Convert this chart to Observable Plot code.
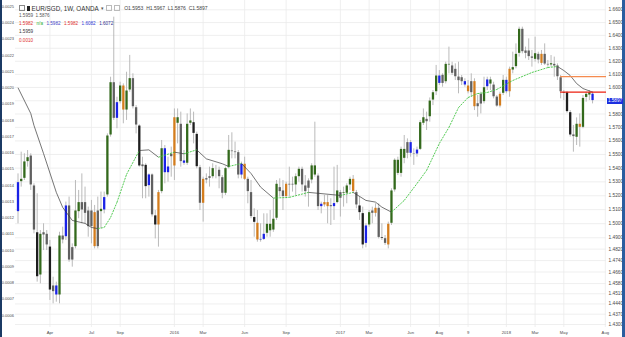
<!DOCTYPE html>
<html><head><meta charset="utf-8">
<script src="https://cdn.jsdelivr.net/npm/d3@7"></script>
<script src="https://cdn.jsdelivr.net/npm/@observablehq/plot@0.6"></script>
<style>
html,body{margin:0;padding:0;background:#fff;}
#wrap{position:relative;width:625px;height:337px;overflow:hidden;font-family:"Liberation Sans",Arial,sans-serif;background:#fff;}
#wrap svg{position:absolute;left:0;top:0;}
.lg{position:absolute;white-space:nowrap;line-height:1;}
.row1{display:flex;align-items:center;height:7px;}
</style></head><body><div id="wrap"></div>
<script>
// ---- data (weekly bars, EUR/SGD, OANDA) ----
const firstWeek = "2015-01-25";
const open  = [1.5298,1.5298,1.5322,1.5444,1.5492,1.5274,1.4939,1.4636,1.4939,1.4928,1.4838,1.4567,1.4567,1.4498,1.4916,1.4904,1.5130,1.4834,1.4834,1.5082,1.5154,1.5154,1.5094,1.5094,1.5082,1.5094,1.5082,1.5094,1.5202,1.5640,1.6040,1.5764,1.5889,1.6015,1.5826,1.5977,1.6071,1.5851,1.5714,1.5427,1.5424,1.5269,1.5354,1.5059,1.4987,1.5226,1.5546,1.5363,1.5505,1.5412,1.5727,1.5727,1.5456,1.5432,1.5727,1.5739,1.5652,1.5407,1.5142,1.5327,1.5341,1.5334,1.5395,1.5388,1.5334,1.5214,1.5400,1.5529,1.5522,1.5517,1.5346,1.5432,1.5322,1.5226,1.5047,1.5006,1.4892,1.4885,1.4928,1.4946,1.4951,1.5035,1.5262,1.5238,1.5190,1.5286,1.5286,1.5274,1.5334,1.5395,1.5274,1.5310,1.5310,1.5346,1.5346,1.5118,1.5130,1.5154,1.5130,1.5118,1.5147,1.5226,1.5214,1.5214,1.5274,1.5322,1.5226,1.5130,1.5075,1.4857,1.4987,1.5094,1.5070,1.5113,1.4904,1.4897,1.4846,1.4999,1.5238,1.5358,1.5358,1.5468,1.5591,1.5505,1.5510,1.5500,1.5534,1.5727,1.5764,1.5776,1.5901,1.5964,1.6091,1.6096,1.6040,1.6168,1.6168,1.6142,1.6083,1.6078,1.6048,1.6015,1.6048,1.6048,1.5881,1.5952,1.5889,1.6002,1.6022,1.6022,1.5931,1.5856,1.5952,1.6058,1.5964,1.6129,1.6155,1.6257,1.6451,1.6283,1.6283,1.6237,1.6211,1.6257,1.6180,1.6257,1.6180,1.6168,1.6180,1.6168,1.6078,1.5964,1.5964,1.5814,1.5648,1.5623,1.5727,1.5697,1.5921,1.5939,1.5953];
const high  = [1.5358,1.5517,1.5505,1.5529,1.5505,1.5286,1.5214,1.4951,1.4999,1.4951,1.4881,1.4624,1.4590,1.4939,1.4975,1.5154,1.5190,1.4857,1.5310,1.5238,1.5358,1.5262,1.5118,1.5166,1.5130,1.5190,1.5226,1.5226,1.5652,1.6078,1.6542,1.5926,1.6040,1.6027,1.6116,1.6245,1.6104,1.5863,1.5720,1.5480,1.5432,1.5358,1.5358,1.5094,1.5238,1.5603,1.5566,1.5480,1.5554,1.5838,1.5838,1.5814,1.5529,1.5801,1.5838,1.5814,1.5665,1.5420,1.5334,1.5358,1.5407,1.5432,1.5420,1.5407,1.5346,1.5407,1.5640,1.5660,1.5591,1.5529,1.5444,1.5480,1.5334,1.5310,1.5106,1.5094,1.4999,1.5070,1.5070,1.5094,1.5178,1.5310,1.5322,1.5310,1.5298,1.5407,1.5334,1.5358,1.5407,1.5407,1.5346,1.5322,1.5432,1.5739,1.5358,1.5154,1.5202,1.5202,1.5178,1.5407,1.5420,1.5238,1.5262,1.5286,1.5334,1.5346,1.5238,1.5190,1.5118,1.4999,1.5094,1.5118,1.5142,1.5142,1.4999,1.4916,1.5011,1.5250,1.5468,1.5480,1.5554,1.5640,1.5615,1.5603,1.5541,1.5554,1.5752,1.5838,1.5814,1.5921,1.5977,1.6168,1.6129,1.6104,1.6193,1.6309,1.6193,1.6180,1.6193,1.6091,1.6066,1.6053,1.6104,1.6066,1.5939,1.5964,1.6078,1.6078,1.6078,1.6040,1.5939,1.5964,1.6091,1.6078,1.6155,1.6270,1.6334,1.6464,1.6464,1.6309,1.6373,1.6283,1.6386,1.6270,1.6283,1.6334,1.6206,1.6244,1.6232,1.6180,1.6091,1.5977,1.5970,1.5826,1.5714,1.5771,1.5801,1.5939,1.5964,1.5977,1.5967];
const low   = [1.4999,1.5262,1.5310,1.5407,1.5238,1.4928,1.4590,1.4578,1.4810,1.4810,1.4464,1.4441,1.4452,1.4441,1.4857,1.4881,1.4728,1.4694,1.4822,1.5035,1.4999,1.4999,1.4904,1.4857,1.4822,1.4822,1.4963,1.5070,1.5190,1.5628,1.5752,1.5690,1.5876,1.5727,1.5752,1.5964,1.5838,1.5652,1.5407,1.5178,1.5178,1.5190,1.5047,1.4892,1.4834,1.5214,1.5286,1.5298,1.5334,1.5310,1.5578,1.5407,1.5420,1.5420,1.5714,1.5578,1.5395,1.5094,1.5011,1.5286,1.5262,1.5322,1.5322,1.5250,1.5178,1.5202,1.5395,1.5468,1.5468,1.5322,1.5322,1.5310,1.5142,1.5035,1.4904,1.4869,1.4869,1.4881,1.4904,1.4904,1.4939,1.5023,1.5190,1.5094,1.5178,1.5190,1.5226,1.5202,1.5298,1.5226,1.5190,1.5118,1.5286,1.5334,1.5094,1.5070,1.5118,1.4999,1.4987,1.5023,1.5142,1.5047,1.5118,1.5142,1.5238,1.5214,1.5106,1.5023,1.4822,1.4829,1.4975,1.4999,1.5047,1.4892,1.4881,1.4846,1.4822,1.4987,1.5226,1.5346,1.5334,1.5432,1.5468,1.5480,1.5420,1.5480,1.5529,1.5714,1.5677,1.5739,1.5863,1.5939,1.6015,1.6002,1.6027,1.6104,1.6091,1.6053,1.5952,1.6015,1.6002,1.5952,1.5926,1.5826,1.5776,1.5801,1.5876,1.5977,1.5977,1.5914,1.5851,1.5846,1.5939,1.5952,1.5926,1.6104,1.6142,1.6232,1.6257,1.6219,1.6206,1.6155,1.6193,1.6180,1.6168,1.6168,1.6155,1.6155,1.6078,1.6053,1.5914,1.5901,1.5806,1.5628,1.5517,1.5566,1.5554,1.5690,1.5889,1.5901,1.5876];
const close = [1.5082,1.5322,1.5449,1.5480,1.5274,1.4951,1.4624,1.4928,1.4916,1.4846,1.4532,1.4521,1.4498,1.4916,1.4881,1.5130,1.4740,1.4740,1.5094,1.5154,1.5094,1.5070,1.4975,1.4975,1.4834,1.4834,1.5106,1.5190,1.5640,1.6040,1.5764,1.5889,1.6015,1.5826,1.5977,1.6071,1.5851,1.5714,1.5412,1.5407,1.5262,1.5354,1.5059,1.4987,1.5226,1.5546,1.5363,1.5412,1.5480,1.5776,1.5776,1.5444,1.5432,1.5727,1.5752,1.5652,1.5407,1.5142,1.5322,1.5310,1.5322,1.5400,1.5388,1.5334,1.5214,1.5400,1.5534,1.5517,1.5510,1.5346,1.5432,1.5315,1.5226,1.5047,1.5006,1.4881,1.4881,1.4928,1.4999,1.4999,1.5035,1.5286,1.5226,1.5190,1.5286,1.5274,1.5274,1.5341,1.5395,1.5274,1.5226,1.5250,1.5420,1.5420,1.5118,1.5142,1.5154,1.5118,1.5118,1.5147,1.5238,1.5178,1.5226,1.5274,1.5322,1.5226,1.5130,1.5075,1.4846,1.4987,1.5082,1.5070,1.5113,1.4899,1.4892,1.4857,1.4999,1.5238,1.5461,1.5461,1.5541,1.5541,1.5505,1.5591,1.5500,1.5536,1.5739,1.5776,1.5739,1.5901,1.5964,1.6091,1.6027,1.6027,1.6180,1.6180,1.6104,1.6078,1.6048,1.6040,1.6015,1.5964,1.5957,1.5851,1.5851,1.5871,1.6002,1.6061,1.6061,1.5926,1.5856,1.5952,1.6058,1.5964,1.6142,1.6155,1.6257,1.6451,1.6270,1.6257,1.6232,1.6219,1.6262,1.6206,1.6257,1.6175,1.6168,1.6185,1.6160,1.6078,1.5964,1.5952,1.5814,1.5640,1.5628,1.5727,1.5697,1.5921,1.5952,1.5964,1.5897];
// bar colouring: g green, s grey, k black, b blue, o orange (one letter per bar)
const barColor = "bgggsskgss" + "ksbgsbssgg" + "ssssosgbgg" + "sbgoggssks" + "kbskogbbso" +
                 "gsbggkksos" + "sgsssggsss" + "bosskobbgg" + "ggssossggs" + "ssggsbookb" +
                 "gsgggoskkb" + "gsosksoggg" + "ggsbsbggsg" + "ggbsggssss" + "bosossgbgs" +
                 "sogbogggss" + "ssgsossgss" + "skkksgogggb";
// trend line (read at selected bars): bar index, value, state of the following segment (d = falling, u = rising)
const maIndex = [0,4,5,8,12,14,17,21,23,25,27,29,31,34,38,41,44,49,52,56,59,64,66,70,73,76,80,85,91,101,105,109,112,114,117,121,125,128,132,135,138,141,144,147,150,155,161,166,169,171,173,175,177,180];
const maValue = [1.5998,1.5804,1.5715,1.5507,1.5224,1.5116,1.5023,1.5002,1.4973,1.4965,1.4973,1.5044,1.5152,1.5354,1.5529,1.5534,1.5480,1.5517,1.5505,1.5534,1.5468,1.5432,1.5412,1.5434,1.5361,1.5262,1.5183,1.5188,1.5224,1.5202,1.5224,1.5166,1.5154,1.5118,1.5082,1.5166,1.5288,1.5383,1.5581,1.5700,1.5848,1.5924,1.5954,1.5962,1.5985,1.6053,1.6114,1.6152,1.6160,1.6129,1.6091,1.6030,1.5992,1.5965];
const maState = "ddddddddd" + "uuuuu" + "dd" + "u" + "d" + "u" + "ddd" + "u" + "ddd" + "uu" + "d" + "u" + "dddd" + "uuuuuuuuuuuuuu" + "ddddd";
// horizontal levels
const levelValues = [1.6082, 1.5965];
const levelStartBar = 170;
// axes
const priceTicks = [1.66,1.65,1.64,1.63,1.62,1.61,1.60,1.59,1.58,1.57,1.56,1.55,1.54,1.53,1.52,1.51,1.50,1.49,1.482,1.474,1.466,1.458,1.451,1.444,1.437,1.43];
const leftTicks = [0.0025,0.0024,0.0023,0.0022,0.0021,0.0020,0.0019,0.0018,0.0017,0.0016,0.0015,0.0014,0.0013,0.0012,0.0011,0.0010,0.0009,0.0008,0.0007,0.0006];
const timeTickDates = ["2015-04-05","2015-07-05","2015-09-06","2016-01-03","2016-03-06","2016-06-05","2016-09-04","2017-01-01","2017-03-05","2017-06-04","2017-08-06","2017-10-08","2017-12-31","2018-03-04","2018-05-06","2018-08-05"];
const timeTickLabels = ["Apr","Jul","Sep","2016","Mar","Jun","Sep","2017","Mar","Jun","Aug","9","2018","Mar","May","Aug"];
const legendRow2 = ["1.5959","1.5876"];
const legendRow3 = [["1.5982","#e0312e"],["n/a","#2fb32f"],["1.5982","#4646c8"],["1.5982","#e0312e"],["1.6082","#2f39d6"],["1.6072","#2c2f8f"]];
const legendRow4 = "1.5959", legendRow5 = "0.0010";

// ---- build ----
const colorMap = {g:"#33691c", s:"#606060", k:"#1e1e1e", b:"#1a22e6", o:"#d47d1d"};
const start = new Date(firstWeek + "T00:00Z");
const dates = open.map((_, i) => d3.utcWeek.offset(start, i));
const bars = dates.map((d, i) => ({date: d, o: open[i], h: high[i], l: low[i], c: close[i], col: barColor[i] || "s"}));
const segs = maIndex.slice(0, -1).map((idx, k) => ({
  x1: dates[idx], y1: maValue[k], x2: dates[maIndex[k + 1]], y2: maValue[k + 1], t: maState[k]
}));
const timeTicks = timeTickDates.map(s => new Date(s + "T00:00Z"));
const tickLabelMap = new Map(timeTicks.map((d, i) => [+d, timeTickLabels[i]]));
const xDomain = [new Date("2015-01-19T12:00Z"), new Date("2018-08-07T14:00Z")];
const W = 625, H = 337, ML = 15, MR = 19, MT = 0, MB = 10;
const fmt4 = d3.format(".4f");

const chart = Plot.plot({
  width: W, height: H, marginLeft: ML, marginRight: MR, marginTop: MT, marginBottom: MB,
  style: {fontFamily: "Liberation Sans, Arial, sans-serif", background: "transparent", overflow: "visible"},
  x: {type: "utc", domain: xDomain},
  y: {type: "log", domain: [1.42797, 1.66733]},
  marks: [
    Plot.gridY(priceTicks, {stroke: "#ebebeb", strokeOpacity: 1, strokeWidth: 0.8}),
    Plot.gridX(timeTicks, {stroke: "#ebebeb", strokeOpacity: 1, strokeWidth: 0.8}),
    Plot.ruleX(bars, {x: "date", y1: "l", y2: "h", stroke: "#b2b2b2", strokeWidth: 0.9}),
    Plot.ruleX(bars, {x: "date", y1: d => Math.min(d.o, d.c), y2: d => Math.max(d.o, d.c),
      stroke: d => colorMap[d.col], strokeWidth: 2.3, insetTop: -0.5, insetBottom: -0.5}),
    Plot.link(segs.filter(s => s.t === "d"), {x1: "x1", y1: "y1", x2: "x2", y2: "y2", stroke: "#3a3a3a", strokeWidth: 0.7}),
    Plot.link(segs.filter(s => s.t === "u"), {x1: "x1", y1: "y1", x2: "x2", y2: "y2", stroke: "#3fc43f", strokeWidth: 0.9, strokeDasharray: "2,1"}),
    Plot.ruleY([levelValues[0]], {x1: dates[levelStartBar], x2: xDomain[1], stroke: "#f58b4f", strokeWidth: 1.3}),
    Plot.ruleY([levelValues[1]], {x1: dates[levelStartBar], x2: xDomain[1], stroke: "#ec2110", strokeWidth: 1.2}),
    Plot.axisY(priceTicks, {anchor: "right", tickSize: 0, tickPadding: 2, tickFormat: fmt4, fontSize: 4.8, fill: "#4a4a4a", label: null}),
    Plot.axisX(timeTicks, {anchor: "bottom", tickSize: 0, tickPadding: 3.5, tickFormat: d => tickLabelMap.get(+d), fontSize: 4.2, fill: "#4a4a4a", label: null})
  ]
});

const leftAxis = Plot.plot({
  width: W, height: H, marginLeft: ML, marginRight: MR, marginTop: MT, marginBottom: MB,
  style: {fontFamily: "Liberation Sans, Arial, sans-serif", background: "transparent"},
  y: {domain: [0.000526, 0.002537]},
  marks: [Plot.axisY(leftTicks, {anchor: "left", tickSize: 0, tickPadding: 1.5, tickFormat: fmt4, fontSize: 4, fill: "#4a4a4a", label: null})]
});

const wrap = document.getElementById("wrap");
wrap.appendChild(chart);
wrap.appendChild(leftAxis);

function addDiv(html, css, cls) {
  const d = document.createElement("div");
  d.className = "lg" + (cls ? " " + cls : "");
  d.innerHTML = html;
  Object.assign(d.style, css);
  wrap.appendChild(d);
  return d;
}
// borders
addDiv("", {left: "0px", top: "0px", width: "2px", height: H + "px", background: "#1b3a64"});
addDiv("", {left: (W - 3) + "px", top: "0px", width: "3px", height: H + "px", background: "#2a5e9f"});

// last price marker
const last = bars.length - 1;
const yLast = chart.scale("y").apply(close[last]);
addDiv(fmt4(close[last]), {left: (W - MR + 1) + "px", top: (yLast - 3) + "px", width: "16px", height: "6px",
  background: "#1b2fe0", color: "#fff", fontSize: "4.6px", lineHeight: "6px", textAlign: "center"});

// legend
const row1 = `<span style="display:inline-block;width:4px;height:4px;border:0.6px solid #888;margin-right:2px"></span>` +
  `<span style="display:inline-block;width:2.5px;height:5px;background:#222;margin-right:2px"></span>` +
  `<span style="font-size:6.3px;line-height:7px;color:#333">EUR/SGD, 1W, OANDA</span>` +
  `<span style="font-size:4.5px;line-height:7px;color:#555;margin:0 2px">&#9662;</span>` +
  `<span style="display:inline-block;width:4.5px;height:4.5px;border:0.6px solid #bbb;margin-right:1.5px"></span>` +
  `<span style="display:inline-block;width:4.5px;height:4.5px;border:0.6px solid #bbb;margin-right:4px"></span>` +
  `<span style="font-size:5px;line-height:7px;color:#444">O${fmt4(open[last])}&nbsp; H${fmt4(high[last])}&nbsp; L${fmt4(low[last])}&nbsp; C${fmt4(close[last])}</span>`;
addDiv(row1, {left: "19px", top: "4.5px"}, "row1");
addDiv(legendRow2.join("&nbsp;&nbsp;"), {left: "19px", top: "13.5px", fontSize: "4.6px", color: "#555"});
addDiv(legendRow3.map(([t, c]) => `<span style="color:${c};margin-right:3.5px">${t}</span>`).join(""), {left: "19px", top: "22px", fontSize: "4.6px"});
addDiv(legendRow4, {left: "19px", top: "30px", fontSize: "4.6px", color: "#333"});
addDiv(legendRow5, {left: "19px", top: "38.5px", fontSize: "4.6px", color: "#e0312e"});
</script></body></html>
